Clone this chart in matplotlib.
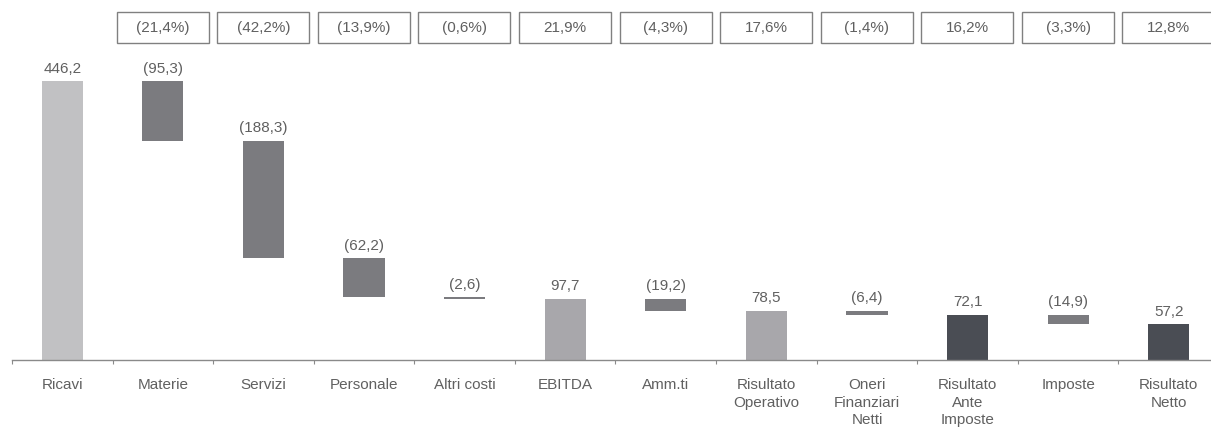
import matplotlib
matplotlib.use("Agg")
import matplotlib.pyplot as plt
from matplotlib.patches import Rectangle
import matplotlib.transforms as mtransforms

categories = ["Ricavi", "Materie", "Servizi", "Personale", "Altri costi", "EBITDA",
              "Amm.ti", "Risultato\nOperativo", "Oneri\nFinanziari\nNetti",
              "Risultato\nAnte\nImposte", "Imposte", "Risultato\nNetto"]
values = [446.2, -95.3, -188.3, -62.2, -2.6, 97.7, -19.2, 78.5, -6.4, 72.1, -14.9, 57.2]
kinds = ["start", "delta", "delta", "delta", "delta", "sub1", "delta", "sub1", "delta", "sub2", "delta", "sub2"]
pct = [-21.4, -42.2, -13.9, -0.6, 21.9, -4.3, 17.6, -1.4, 16.2, -3.3, 12.8]

colors = {"start": "#c1c1c3", "delta": "#7b7b7f", "sub1": "#a8a7ab", "sub2": "#4a4d54"}
TXT = "#606060"
FAM = ['Liberation Sans', 'DejaVu Sans']
FS = 11

def fmt(v):
    s = f"{abs(v):.1f}".replace(".", ",")
    return f"({s})" if v < 0 else s

plt.rcParams['font.family'] = FAM
fig = plt.figure(figsize=(12.11, 4.29), dpi=100)
ax = fig.add_axes([12 / 1211, 69 / 429, 1207 / 1211, 360 / 429])

level = 0.0
for i, (v, k) in enumerate(zip(values, kinds)):
    if k == "delta":
        bottom = level + v
        height = -v
        top = level
        level = level + v
    else:
        bottom = 0
        height = v
        top = v
        level = v
    ax.bar(i, height, bottom=bottom, width=0.41, color=colors[k], edgecolor="none")
    ax.annotate(fmt(v), (i, top), xytext=(0, 4.0), textcoords="offset points",
                ha="center", va="bottom", fontsize=FS, color=TXT, family=FAM)

trans = mtransforms.blended_transform_factory(ax.transData, ax.transAxes)
for j, p in enumerate(pct):
    x = j + 1
    ax.add_patch(Rectangle((x - 0.46, 0.8806), 0.915, 0.0861, transform=trans,
                           facecolor="white", edgecolor="#808080", linewidth=1.0,
                           clip_on=False))
    s = f"{abs(p):.1f}".replace(".", ",") + "%"
    if p < 0:
        s = f"({s})"
    ax.text(x, 0.9236, s, transform=trans, ha="center", va="center",
            fontsize=FS, color=TXT, family=FAM)

ax.set_xlim(-0.5, 11.5)
ax.set_ylim(0, 576)
for s in ["top", "right", "left"]:
    ax.spines[s].set_visible(False)
ax.spines["bottom"].set_color("#8a8a8a")
ax.spines["bottom"].set_linewidth(1.0)
ax.set_yticks([])
ax.set_xticks([i + 0.5 for i in range(-1, 11)], minor=False)
ax.set_xticklabels([])
ax.tick_params(axis="x", which="major", length=3, color="#8a8a8a", direction="out")
ax.set_xticks(range(len(categories)), minor=True)
ax.set_xticklabels(categories, minor=True, fontsize=FS, color=TXT,
                   linespacing=1.32, family=FAM)
ax.tick_params(axis="x", which="minor", length=0, pad=13)

fig.savefig("out.png", dpi=100)
